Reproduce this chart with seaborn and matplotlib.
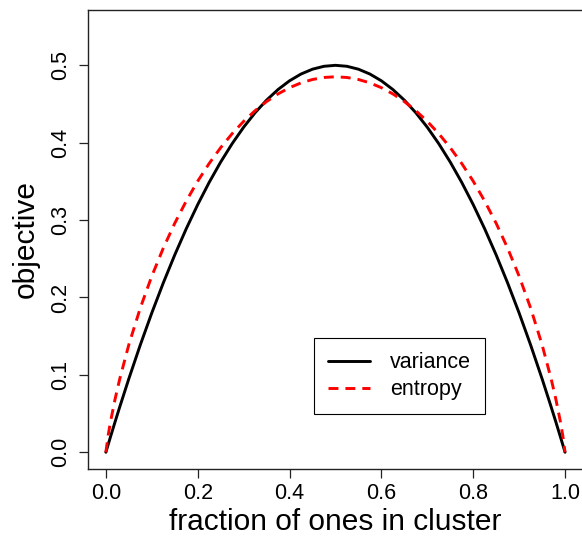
import matplotlib
matplotlib.use("Agg")
import matplotlib.pyplot as plt
import seaborn as sns
import pandas as pd

# fraction of ones in cluster (x) and the two objectives
frac = [0.0, 0.005, 0.01, 0.02, 0.03, 0.05, 0.075, 0.1, 0.125, 0.15, 0.175, 0.2,
        0.225, 0.25, 0.275, 0.3, 0.325, 0.35, 0.375, 0.4, 0.425, 0.45, 0.475, 0.5,
        0.525, 0.55, 0.575, 0.6, 0.625, 0.65, 0.675, 0.7, 0.725, 0.75, 0.775, 0.8,
        0.825, 0.85, 0.875, 0.9, 0.925, 0.95, 0.97, 0.98, 0.99, 0.995, 1.0]

variance = [0.0, 0.00995, 0.0198, 0.0392, 0.0582, 0.095, 0.13875, 0.18, 0.21875, 0.255,
            0.28875, 0.32, 0.34875, 0.375, 0.39875, 0.42, 0.43875, 0.455, 0.46875, 0.48,
            0.48875, 0.495, 0.49875, 0.5,
            0.49875, 0.495, 0.48875, 0.48, 0.46875, 0.455, 0.43875, 0.42, 0.39875, 0.375,
            0.34875, 0.32, 0.28875, 0.255, 0.21875, 0.18, 0.13875, 0.095, 0.0582, 0.0392,
            0.0198, 0.00995, 0.0]

entropy = [0.0, 0.0220, 0.0392, 0.0686, 0.0943, 0.1390, 0.1865, 0.2276, 0.2637, 0.2959,
           0.3246, 0.3503, 0.3732, 0.3936, 0.4117, 0.4276, 0.4414, 0.4532, 0.4631, 0.4711,
           0.4773, 0.4817, 0.4843, 0.4852,
           0.4843, 0.4817, 0.4773, 0.4711, 0.4631, 0.4532, 0.4414, 0.4276, 0.4117, 0.3936,
           0.3732, 0.3503, 0.3246, 0.2959, 0.2637, 0.2276, 0.1865, 0.1390, 0.0943, 0.0686,
           0.0392, 0.0220, 0.0]

xticks = [0.0, 0.2, 0.4, 0.6, 0.8, 1.0]
xticklabels = ["0.0", "0.2", "0.4", "0.6", "0.8", "1.0"]
yticks = [0.0, 0.1, 0.2, 0.3, 0.4, 0.5]
yticklabels = ["0.0", "0.1", "0.2", "0.3", "0.4", "0.5"]

sns.set_style("white")
plt.rcParams["font.family"] = ["Liberation Sans", "DejaVu Sans"]
plt.rcParams["text.color"] = "black"
plt.rcParams["axes.labelcolor"] = "black"

W, H = 582, 539
fig = plt.figure(figsize=(W / 100, H / 100), dpi=100)
left, right, top, bottom = 87.5, 583.4, 9.6, 469.3
ax = fig.add_axes([left / W, 1 - bottom / H, (right - left) / W, (bottom - top) / H])

df = pd.DataFrame({"frac": frac, "variance": variance, "entropy": entropy})
sns.lineplot(data=df, x="frac", y="variance", ax=ax, color="black", lw=2.1,
             label="variance")
sns.lineplot(data=df, x="frac", y="entropy", ax=ax, color="#ff0000", lw=2.1,
             label="entropy")
ax.lines[1].set_dashes((3.4, 2.4))

ax.set_xlim(-0.04, 1.04)
ax.set_ylim(-0.022, 0.572)
ax.set_xticks(xticks)
ax.set_xticklabels(xticklabels)
ax.set_yticks(yticks)
ax.set_yticklabels(yticklabels, rotation=90, va="center")

for s in ax.spines.values():
    s.set_color("#222222")
    s.set_linewidth(1.0)
    s.set_visible(True)

ax.tick_params(axis="both", which="major", length=6.5, width=0.9, color="#222222",
               labelsize=15.5, labelcolor="black", direction="out",
               bottom=True, left=True, top=False, right=False)
ax.tick_params(axis="x", pad=3.5)
ax.tick_params(axis="y", pad=5.0)

ax.set_xlabel("fraction of ones in cluster", fontsize=21.5, color="black")
ax.set_ylabel("objective", fontsize=21.5, color="black")
ax.xaxis.set_label_coords((335.5 - left) / (right - left), -(508.5 - bottom) / (bottom - top))
ax.yaxis.set_label_coords(-(left - 39.5) / (right - left), 0.5)

leg = ax.legend(loc="center", bbox_to_anchor=(399.7 / W, 1 - 376.3 / H),
                bbox_transform=fig.transFigure, fontsize=15.5, frameon=True,
                fancybox=False, shadow=False, framealpha=1, edgecolor="black",
                handlelength=1.93, handletextpad=0.93, labelspacing=0.28,
                borderpad=0.65, borderaxespad=0)
leg.get_frame().set_linewidth(0.8)
for t in leg.get_texts():
    t.set_color("black")

fig.savefig("out.png", dpi=100)
